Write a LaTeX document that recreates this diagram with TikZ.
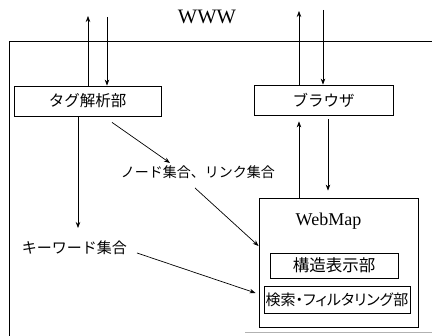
\documentclass[tikz,border=0pt]{standalone}
\usepackage{fontspec}
\setmainfont{Liberation Serif}
\newfontfamily\jp{Noto Sans CJK JP}
\newfontfamily\jpp[RawFeature=+palt]{Noto Sans CJK JP}
\usetikzlibrary{arrows.meta}
\begin{document}
\begin{tikzpicture}[x=1pt,y=-1pt,
  line width=0.7pt,
  arr/.style={-{Stealth[length=6pt,width=4.5pt]}},
  box/.style={draw, line width=0.8pt, inner sep=0pt, font=\jp\fontsize{15.5}{17}\selectfont},
  lbl/.style={inner sep=0pt, font=\jp\fontsize{14}{16}\selectfont}]
\useasboundingbox (0,0) rectangle (432,336);
% frame
\draw[line width=0.8pt] (432,41) -- (9,41) -- (9,336);
\draw[gray!60, line width=0.8pt] (245,332) -- (432,332);
% WWW
\node[inner sep=0pt, font=\fontsize{20.5}{22}\selectfont] (www) at (207,17) {WWW};
% boxes
\node[box, minimum width=147pt, minimum height=30pt] (tag) at (87.5,101) {タグ解析部};
\node[box, minimum width=139pt, minimum height=30pt] (br) at (323.5,100) {ブラウザ};
\node[draw, line width=0.8pt, minimum width=159pt, minimum height=129pt, inner sep=0pt] (wm) at (338.5,262.5) {};
\node[inner sep=0pt, font=\fontsize{18}{20}\selectfont] (wml) at (328.5,221) {WebMap};
\node[box, minimum width=128pt, minimum height=25pt, font=\jp\fontsize{16.5}{18}\selectfont] (st) at (334,265.5) {構造表示部};
\node[box, minimum width=146pt, minimum height=27pt, font=\jpp\fontsize{15}{17}\selectfont] (se) at (337,299.5) {検索・フィルタリング部};
% labels
\node[lbl, font=\jp\fontsize{15}{17}\selectfont] (kw) at (74.5,248) {キーワード集合};
\node[lbl] (nl) at (198,172) {ノード集合、リンク集合};
% coordinates for free ends
\coordinate (t1) at (88,16);
\coordinate (t2) at (107,17);
\coordinate (b1) at (299,11);
\coordinate (b2) at (323,10);
\coordinate (k1) at (78,228);
% arrows to/from WWW
\draw[arr] (tag.north -| t1) -- (t1);
\draw[arr] (t2) -- (tag.north -| t2);
\draw[arr] (br.north -| b1) -- (b1);
\draw[arr] (b2) -- (br.north -| b2);
% browser <-> webmap
\draw[arr, shorten >=6pt] (wm.north -| b1) -- (br.south -| b1);
\draw[arr, shorten <=4pt, shorten >=7pt] (br.south -| 328,0) -- (wm.north -| 328,0);
% tag -> keyword
\draw[arr] (tag.south -| k1) -- (k1);
% tag -> node/link
\draw[arr] ([shift={(24.5,6)}]tag.south) -- ([shift={(-28,-9)}]nl.center);
% node/link -> webmap
\draw[arr] ([shift={(-3,16)}]nl.center) -- (wm.west |- 0,246);
% keyword -> webmap
\draw[arr] ([shift={(62.5,5)}]kw.center) -- ([xshift=-3pt]wm.west |- 0,293);
\end{tikzpicture}
\end{document}
